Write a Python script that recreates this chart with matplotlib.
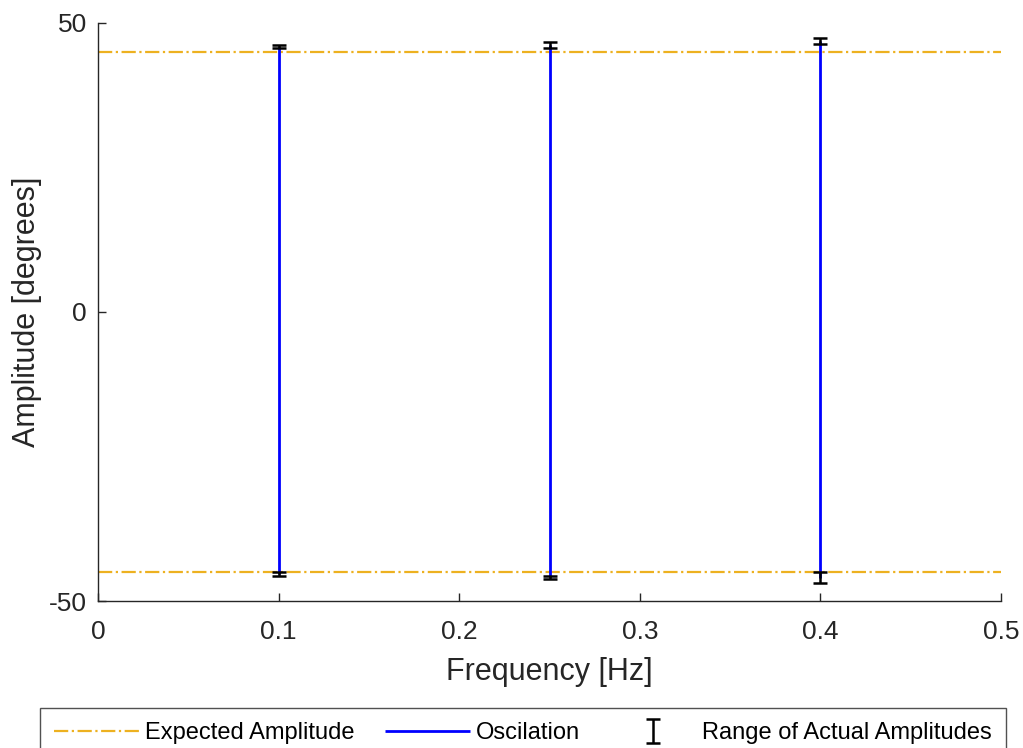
import matplotlib
matplotlib.use("Agg")
import matplotlib.pyplot as plt
import numpy as np

plt.rcParams['font.family'] = ['Liberation Sans', 'DejaVu Sans']
plt.rcParams['axes.unicode_minus'] = False

# Test frequencies and the commanded amplitude
frequencies = [0.1, 0.25, 0.4]
expected_amplitude = 45.0

# Observed peak ranges (degrees): positive and negative extremes
upper_min = [45.6, 45.7, 46.4]
upper_max = [46.2, 46.7, 47.4]
lower_min = [-45.7, -46.2, -46.9]
lower_max = [-44.9, -45.6, -45.0]

x_ticks = [0, 0.1, 0.2, 0.3, 0.4, 0.5]
x_tick_labels = ['0', '0.1', '0.2', '0.3', '0.4', '0.5']
y_ticks = [-50, 0, 50]

fig = plt.figure(figsize=(10.23, 7.48), dpi=100)
ax = fig.add_axes([0.0958, 0.1965, 0.8827, 0.7728])

dark = '#262626'
orange = '#EDB120'

exp_line = ax.axhline(expected_amplitude, color=orange, ls='-.', lw=1.6,
                      label='Expected Amplitude')
ax.axhline(-expected_amplitude, color=orange, ls='-.', lw=1.6)

upper_mid = [(a + b) / 2 for a, b in zip(upper_min, upper_max)]
lower_mid = [(a + b) / 2 for a, b in zip(lower_min, lower_max)]

osc = ax.vlines(frequencies, lower_mid, upper_mid, color='blue', lw=2,
                label='Oscilation')

upper_err = [[m - lo for m, lo in zip(upper_mid, upper_min)],
             [hi - m for m, hi in zip(upper_mid, upper_max)]]
lower_err = [[m - lo for m, lo in zip(lower_mid, lower_min)],
             [hi - m for m, hi in zip(lower_mid, lower_max)]]

eb = ax.errorbar(frequencies, upper_mid, yerr=upper_err, fmt='none',
                 ecolor='black', elinewidth=1.8, capsize=5, capthick=1.8,
                 label='Range of Actual Amplitudes', zorder=4)
ax.errorbar(frequencies, lower_mid, yerr=lower_err, fmt='none',
            ecolor='black', elinewidth=1.8, capsize=5, capthick=1.8, zorder=4)

ax.set_xlim(0, 0.5)
ax.set_ylim(-50, 50)
ax.set_xticks(x_ticks)
ax.set_xticklabels(x_tick_labels)
ax.set_yticks(y_ticks)

for side in ('top', 'right'):
    ax.spines[side].set_visible(False)
for side in ('left', 'bottom'):
    ax.spines[side].set_color(dark)
    ax.spines[side].set_linewidth(1.0)

ax.tick_params(direction='in', length=6, width=1, colors=dark,
               labelsize=19, labelcolor=dark, pad=8)
ax.tick_params(axis='x', pad=14)

ax.set_xlabel('Frequency [Hz]', fontsize=22, color=dark, labelpad=9)
ax.set_ylabel('Amplitude [degrees]', fontsize=22, color=dark, labelpad=5)

leg = fig.legend(handles=[exp_line, osc, eb],
                 labels=['Expected Amplitude', 'Oscilation',
                         'Range of Actual Amplitudes'],
                 loc='upper center', bbox_to_anchor=(0.511, 1 - 708 / 748),
                 borderaxespad=0, ncol=3, fontsize=17, frameon=True,
                 fancybox=False, edgecolor=dark, handlelength=3.6,
                 columnspacing=1.3, handletextpad=0.25, borderpad=0.6)
leg.get_frame().set_linewidth(1.0)

fig.savefig('out.png', dpi=100)
